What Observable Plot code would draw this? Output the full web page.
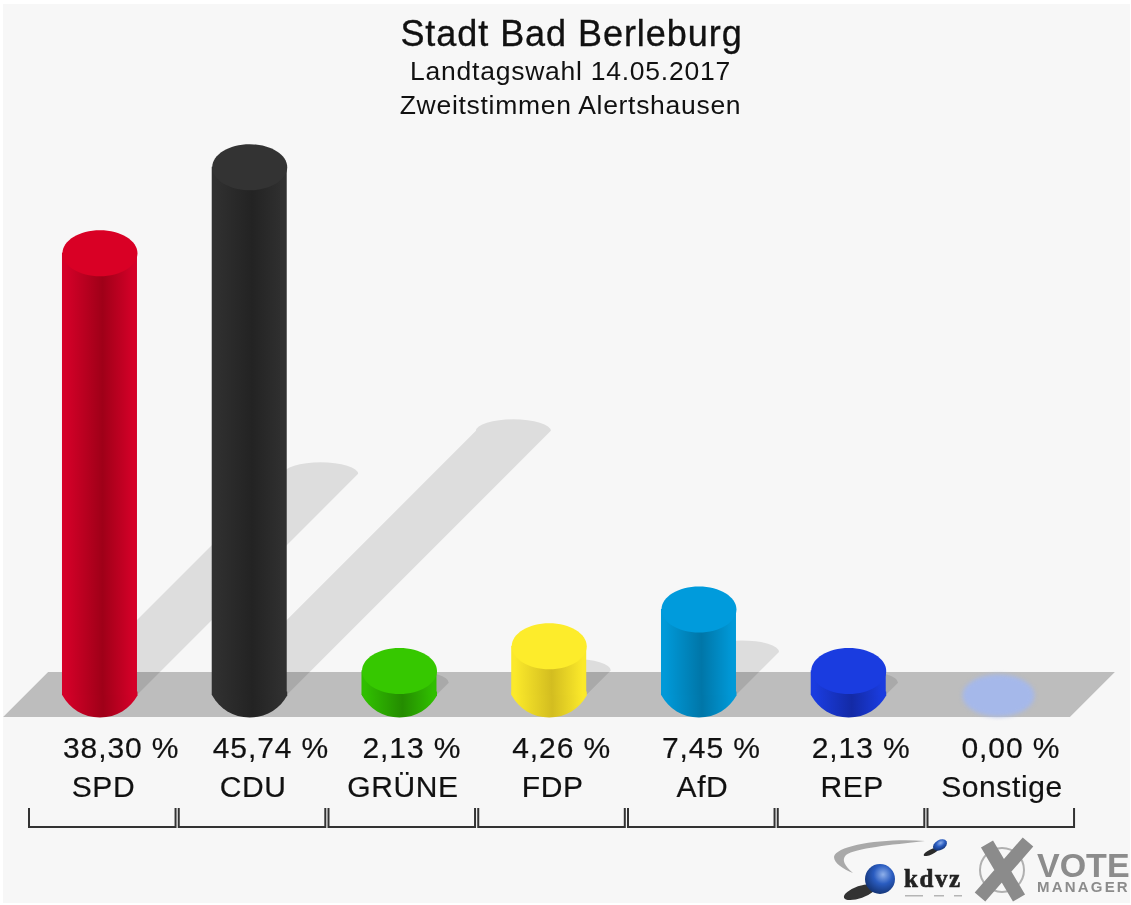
<!DOCTYPE html>
<html lang="de">
<head>
<meta charset="utf-8">
<title>Stadt Bad Berleburg</title>
<script src="https://cdn.jsdelivr.net/npm/d3@7"></script>
<script src="https://cdn.jsdelivr.net/npm/@observablehq/plot@0.6"></script>
<style>
  html, body { margin: 0; padding: 0; background: #fff; }
  svg { display: block; filter: blur(0.5px); font-family: "Liberation Sans", Arial, sans-serif; }
</style>
</head>
<body>
<div id="chart"></div>
<script>
const parties = ["SPD", "CDU", "GRÜNE", "FDP", "AfD", "REP", "Sonstige"];
const shares = [38.30, 45.74, 2.13, 4.26, 7.45, 2.13, 0.00];
const shareLabels = ["38,30 %", "45,74 %", "2,13 %", "4,26 %", "7,45 %", "2,13 %", "0,00 %"];
const capColors = ["#d90025", "#333333", "#36c800", "#fdec2b", "#009bdc", "#1a3ce0", "#a5b8ea"];
const edgeColors = ["#d40028", "#303030", "#30be00", "#fbe92a", "#0099d8", "#1a3cdf", "#a5b8ea"];
const coreColors = ["#9f0018", "#232323", "#248c00", "#d3bd20", "#0076a8", "#132aa6", "#a5b8ea"];
const headline = ["Stadt Bad Berleburg", "Landtagswahl 14.05.2017", "Zweitstimmen Alertshausen"];

const rows = parties.map((party, i) => ({
  party, share: shares[i], label: shareLabels[i],
  cap: capColors[i], edge: edgeColors[i], core: coreColors[i], id: `body-${i}`
}));
const filled = rows.filter(d => d.share > 0);
const empty = rows.filter(d => d.share === 0);

const radius = 37.5;
const bandStep = 149.75;
const ellipseSymbol = (ratio) => ({
  draw(ctx, size) {
    const rx = Math.sqrt(size / Math.PI), ry = rx * ratio, k = 0.5523;
    ctx.moveTo(-rx, 0);
    ctx.bezierCurveTo(-rx, -k * ry, -k * rx, -ry, 0, -ry);
    ctx.bezierCurveTo(k * rx, -ry, rx, -k * ry, rx, 0);
    ctx.bezierCurveTo(rx, k * ry, k * rx, ry, 0, ry);
    ctx.bezierCurveTo(-k * rx, ry, -rx, k * ry, -rx, 0);
    ctx.closePath();
  }
});
// The foot of each bar tapers more sharply than an ellipse does;
// it reaches a little way up behind the bar body so that no seam shows.
const footSymbol = {
  draw(ctx, size) {
    const rx = Math.sqrt(size / Math.PI), ry = rx * 22 / 37.5;
    ctx.moveTo(-rx, -4);
    ctx.lineTo(-rx, 0);
    ctx.bezierCurveTo(-rx * 0.8, ry * 0.6, -rx * 0.45, ry, 0, ry);
    ctx.bezierCurveTo(rx * 0.45, ry, rx * 0.8, ry * 0.6, rx, 0);
    ctx.lineTo(rx, -4);
    ctx.closePath();
  }
};

const NS = "http://www.w3.org/2000/svg";
function make(name, attrs, parent, text) {
  const el = document.createElementNS(NS, name);
  for (const k in attrs) el.setAttribute(k, attrs[k]);
  if (text) el.textContent = text;
  if (parent) parent.appendChild(el);
  return el;
}

function backdrop(index, { x, y }, values, { width, height }) {
  const g = make("g", {});
  const defs = make("defs", {}, g);
  for (const d of rows) {
    const lg = make("linearGradient", { id: d.id, x1: 0, x2: 1, y1: 0, y2: 0 }, defs);
    make("stop", { offset: "0.05", "stop-color": d.edge }, lg);
    make("stop", { offset: "0.54", "stop-color": d.core }, lg);
    make("stop", { offset: "0.95", "stop-color": d.edge }, lg);
  }
  const sphere = make("radialGradient", { id: "logo-sphere", cx: 0.6, cy: 0.35, r: 0.7 }, defs);
  make("stop", { offset: "0", "stop-color": "#8fb0ea" }, sphere);
  make("stop", { offset: "0.45", "stop-color": "#2a5cc0" }, sphere);
  make("stop", { offset: "1", "stop-color": "#12306e" }, sphere);

  make("rect", { x: 3, y: 4, width: width - 4, height: height - 6, fill: "#f7f7f7" }, g);

  // Floor
  const base = y(0), bw = x.bandwidth();
  const left = x(parties[0]) - 21.5, right = x(parties[6]) + bw - 3;
  make("path", {
    d: `M${left} ${base + 22}L${left + 45} ${base - 23}L${right + 45} ${base - 23}L${right} ${base + 22}Z`,
    fill: "#bdbdbd"
  }, g);

  // Cast shadows: half the height of each bar, thrown up and to the right
  for (const d of filled) {
    const cx = x(d.party) + bw / 2, s = (base - y(d.share)) / 2;
    make("path", {
      d: `M${cx - radius} ${base}L${cx - radius + s} ${base - s}` +
         `A${radius} 11.5 0 0 1 ${cx + radius + s} ${base - s}L${cx + radius} ${base}Z`,
      fill: "#000", "fill-opacity": 0.1
    }, g);
  }
  return g;
}

function brackets(index, { x, y }) {
  const g = make("g", { fill: "none", stroke: "#333", "stroke-width": 2 });
  const bw = x.bandwidth();
  for (const p of parties) {
    const a = x(p) + 4.4, b = a + bw - 3.2;
    make("path", { d: `M${a} 808V827H${b}V808` }, g);
  }
  return g;
}

function logos() {
  const g = make("g", { "text-anchor": "start" });
  make("path", { d: "M925 841C885 838 836 845 834 857C834 863 843 869 853 873C845 866 841 860 846 855C856 848 890 845 925 841Z", fill: "#a9a9a9" }, g);
  make("ellipse", { cx: 931, cy: 852, rx: 8, ry: 2.5, fill: "#2b2b2b", transform: "rotate(-25 931 852)" }, g);
  make("ellipse", { cx: 940, cy: 845, rx: 7.5, ry: 5, fill: "url(#logo-sphere)", transform: "rotate(-30 940 845)" }, g);
  make("ellipse", { cx: 860, cy: 892, rx: 17, ry: 6, fill: "#333", transform: "rotate(-20 860 892)" }, g);
  make("circle", { cx: 880, cy: 879, r: 15, fill: "url(#logo-sphere)" }, g);
  make("text", { x: 904, y: 887, "font-family": "Liberation Serif", "font-weight": "bold", "font-size": 25, "letter-spacing": 1.6, fill: "#222", stroke: "#222", "stroke-width": 0.6 }, g, "kdvz");
  for (const [a, w] of [[905, 18], [934, 10], [954, 8]])
    make("rect", { x: a, y: 895, width: w, height: 1.5, fill: "#b5b5b5" }, g);
  make("circle", { cx: 1002, cy: 870, r: 22, fill: "none", stroke: "#b0b0b0", "stroke-width": 2 }, g);
  make("path", { d: "M987 844L1019 898M1028 842L980 897", stroke: "#8b8b8b", "stroke-width": 14, fill: "none" }, g);
  make("text", { x: 1037, y: 877, "font-weight": "bold", "font-size": 34, fill: "#8c8c8c" }, g, "VOTE");
  make("text", { x: 1037, y: 892, "font-weight": "bold", "font-size": 15, "letter-spacing": 2.2, fill: "#8c8c8c" }, g, "MANAGER");
  return g;
}

const textLine = (text, baseline, size, shift) =>
  Plot.text([text], {
    text: d => d, frameAnchor: "top", lineAnchor: "bottom", dy: baseline, dx: shift,
    fontSize: size, fill: "#111"
  });

const chart = Plot.plot({
  width: 1131,
  height: 905,
  margin: 0,
  style: { background: "#fff", fontFamily: '"Liberation Sans", Arial, sans-serif' },
  x: { type: "band", domain: parties, range: [24.6, 24.6 + 7 * bandStep], padding: 0, round: false, axis: null },
  y: { domain: [0, 50], range: [695, 695 - 11.55 * 50], axis: null },
  marks: [
    backdrop,
    // Tapered feet of the bars
    Plot.dot(filled, {
      x: "party", y: () => 0, r: radius, symbol: footSymbol,
      fill: { value: d => `url(#${d.id})`, scale: null }
    }),
    // Bar bodies
    Plot.barY(filled, {
      x: "party", y1: () => 0, y2: "share",
      insetLeft: (bandStep - 2 * radius) / 2, insetRight: (bandStep - 2 * radius) / 2,
      fill: { value: d => `url(#${d.id})`, scale: null }
    }),
    // Flat tops of the bars
    Plot.dot(filled, {
      x: "party", y: "share", r: radius, symbol: ellipseSymbol(23 / 37.5),
      fill: { value: "cap", scale: null }
    }),
    // A party without votes leaves only a pale disc on the floor
    Plot.dot(empty, {
      x: "party", y: "share", r: 36, symbol: ellipseSymbol(21 / 36),
      fill: { value: "cap", scale: null }
    }),
    textLine(headline[0], 45, 36, 5.5),
    textLine(headline[1], 79, 26.5, 4.5),
    textLine(headline[2], 113, 26.5, 4.5),
    Plot.text(rows, {
      x: "party", text: "label", frameAnchor: "top", lineAnchor: "bottom", dy: 757.5, dx: -37,
      textAnchor: "start", fontSize: 30, fill: "#111"
    }),
    Plot.text(rows, {
      x: "party", text: "party", frameAnchor: "top", lineAnchor: "bottom", dy: 796.5, dx: 3.5,
      fontSize: 30, fill: "#111"
    }),
    brackets,
    logos
  ]
});

// Plot has no letter-spacing option, so the text groups are styled after rendering.
const textGroups = chart.querySelectorAll('g[aria-label="text"]');
const textLooks = [
  { spacing: "0.95px", weight: "0.35px" },
  { spacing: "0.75px", weight: "0" },
  { spacing: "0.7px", weight: "0" },
  { spacing: "0.9px", weight: "0.2px" },
  { spacing: "0.6px", weight: "0.2px" }
];
textGroups.forEach((group, i) => {
  const look = textLooks[i];
  if (!look) return;
  group.style.letterSpacing = look.spacing;
  group.style.stroke = "#111";
  group.style.strokeWidth = look.weight;
});
// The pale disc of the party without votes has a soft edge.
const dotGroups = chart.querySelectorAll('g[aria-label="dot"]');
dotGroups[dotGroups.length - 1].style.filter = "blur(2px)";

document.getElementById("chart").appendChild(chart);
</script>
</body>
</html>
